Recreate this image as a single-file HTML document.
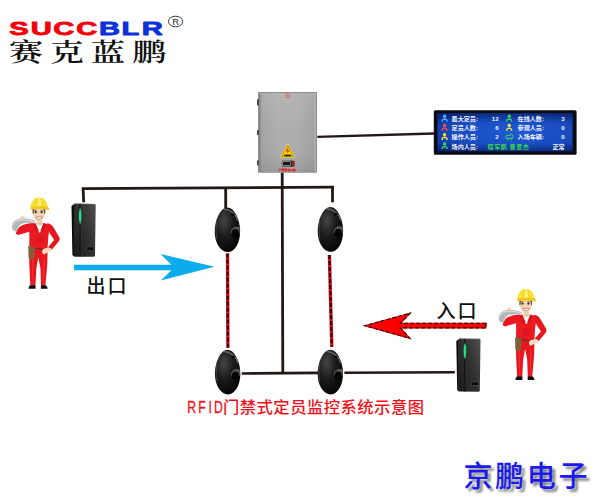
<!DOCTYPE html>
<html lang="zh-CN">
<head>
<meta charset="utf-8">
<title>RFID门禁式定员监控系统示意图</title>
<style>
html,body{margin:0;padding:0;background:#fff;}
body{width:600px;height:500px;overflow:hidden;position:relative;font-family:"Liberation Sans","Noto Sans CJK SC",sans-serif;}
svg{position:absolute;left:0;top:0;display:block;}
text{white-space:pre;}
</style>
</head>
<body>
<svg width="600" height="500" viewBox="0 0 600 500">
<defs>
  <radialGradient id="sgA" cx="0.36" cy="0.3" r="0.75"><stop offset="0" stop-color="#454545"/><stop offset="0.5" stop-color="#1a1a1a"/><stop offset="1" stop-color="#040404"/></radialGradient>
  <radialGradient id="sgB" cx="0.36" cy="0.3" r="0.75"><stop offset="0" stop-color="#454545"/><stop offset="0.5" stop-color="#1a1a1a"/><stop offset="1" stop-color="#040404"/></radialGradient>
  <radialGradient id="sgC" cx="0.36" cy="0.3" r="0.75"><stop offset="0" stop-color="#454545"/><stop offset="0.5" stop-color="#1a1a1a"/><stop offset="1" stop-color="#040404"/></radialGradient>
  <radialGradient id="sgD" cx="0.36" cy="0.3" r="0.75"><stop offset="0" stop-color="#454545"/><stop offset="0.5" stop-color="#1a1a1a"/><stop offset="1" stop-color="#040404"/></radialGradient>
  <linearGradient id="rg" x1="0" y1="0.8" x2="1" y2="0"><stop offset="0" stop-color="#1e1e1e"/><stop offset="0.55" stop-color="#343434"/><stop offset="1" stop-color="#505050"/></linearGradient>
  <linearGradient id="boxg" x1="0" y1="0" x2="1" y2="0"><stop offset="0" stop-color="#a2a2a2"/><stop offset="0.3" stop-color="#adadad"/><stop offset="0.7" stop-color="#acacac"/><stop offset="1" stop-color="#a0a0a0"/></linearGradient>
  <linearGradient id="boxv" x1="0" y1="0" x2="0" y2="1"><stop offset="0" stop-color="#ffffff" stop-opacity="0.10"/><stop offset="0.5" stop-color="#ffffff" stop-opacity="0"/><stop offset="1" stop-color="#000000" stop-opacity="0.10"/></linearGradient>
  <radialGradient id="ledg" cx="0.55" cy="0.5" r="0.75"><stop offset="0" stop-color="#1e5ad4"/><stop offset="0.6" stop-color="#184abc"/><stop offset="1" stop-color="#0e2e90"/></radialGradient>
  <linearGradient id="ledv" x1="0" y1="0" x2="0" y2="1"><stop offset="0" stop-color="#000a40" stop-opacity="0.45"/><stop offset="0.25" stop-color="#000a40" stop-opacity="0"/><stop offset="0.8" stop-color="#000a40" stop-opacity="0"/><stop offset="1" stop-color="#000a40" stop-opacity="0.4"/></linearGradient>
  <pattern id="beam" width="3.4" height="4" patternUnits="userSpaceOnUse"><rect width="3.4" height="4" fill="#e60012"/><path d="M-1,0.5 L4.4,2.5 L4.4,4 L-1,2 Z" fill="#1a1a1a"/></pattern>
  <filter id="sh" x="-10%" y="-10%" width="130%" height="140%"><feGaussianBlur stdDeviation="1.2"/></filter>
</defs>

<!-- logo -->
<g id="logo">
  <text transform="scale(1.6,1)" x="5.8 19.3 33.3 47.7 61.9 76.0 88.6" y="35.0" font-family="'Liberation Sans',sans-serif" font-weight="bold" font-size="18.2" stroke-width="0.8" stroke-linejoin="round"><tspan fill="#f4000a" stroke="#f4000a">SUCC</tspan><tspan fill="#0a32d8" stroke="#0a32d8">BLR</tspan></text>
  <text transform="translate(9,60.8) scale(1.36,1)" font-family="'Liberation Serif','Noto Serif CJK SC',serif" font-weight="600" font-size="25" letter-spacing="5.2" fill="#111">赛克蓝鹏</text>
  <ellipse cx="175.6" cy="21.5" rx="7.1" ry="5.3" fill="none" stroke="#222" stroke-width="0.9"/>
  <text x="172.3" y="24.9" font-family="'Liberation Sans',sans-serif" font-size="9.4" fill="#222">R</text>
</g>

<!-- wiring -->
<g id="wires" fill="none" stroke="#231815" stroke-width="2.8" stroke-linejoin="miter">
  <path d="M83.7,202.3 L83.1,188.6 L334,187.2"/>
  <path d="M225.7,187.6 L225.7,208.5"/>
  <path d="M332.5,186 L332.5,202.3"/>
  <path d="M282.2,172.5 L282.8,373.5"/>
  <path d="M241.8,373.5 L318.5,372.9" stroke-width="2.6"/>
  <path d="M344.4,372.8 L454.8,372.2" stroke-width="2.6"/>
  <path d="M317.3,136.9 L434,133.5" stroke-width="2.4"/>
</g>

<!-- control box -->
<g id="box">
  <rect x="258" y="92" width="59" height="80.8" rx="1" fill="#8c8c8c"/>
  <rect x="260" y="93" width="55.4" height="79" fill="url(#boxg)"/>
  <rect x="260" y="93" width="55.4" height="79" fill="url(#boxv)"/>
  <path d="M315.1,93.4 L315.1,172" stroke="#cfcfcf" stroke-width="0.7"/>
  <path d="M260.3,93.4 L260.3,172" stroke="#7e7e7e" stroke-width="0.7"/>
  <rect x="257" y="99.4" width="1.9" height="6" fill="#4a4642"/>
  <rect x="257" y="130" width="1.9" height="5" fill="#4a4642"/>
  <rect x="257" y="160.4" width="1.9" height="5" fill="#4a4642"/>
  <text transform="translate(285.4,98.3) scale(0.7,1)" font-family="'Liberation Sans',sans-serif" font-size="6.6" fill="#e04444">Ex</text>
  <path d="M287.7,145.2 L293.8,156.8 L281.4,156.8 Z" fill="#f6da0a" stroke="#e8e8e0" stroke-width="2.6" stroke-linejoin="round" opacity="0.7"/>
  <path d="M287.7,145.2 L293.8,156.8 L281.4,156.8 Z" fill="#f6da0a" stroke="#caa400" stroke-width="1.5" stroke-linejoin="round"/>
  <path d="M288.4,147 L286,151.6 L287.9,151.4 L286.6,154.6 L289.8,150.2 L287.9,150.4 Z" fill="#e0201c"/>
  <rect x="284.2" y="154.6" width="7" height="1.7" fill="#2a2200"/>
  <rect x="280.9" y="160.1" width="14.2" height="7" fill="#d8d8d8" opacity="0.7"/>
  <rect x="281.6" y="160.6" width="13" height="6" fill="#151515"/>
  <rect x="282.6" y="161.7" width="8" height="3.8" fill="none" stroke="#cfcfcf" stroke-width="0.6"/>
  <rect x="292.2" y="161" width="1.6" height="5.2" fill="#d9241c"/>
  <text x="278.9" y="171.3" font-family="'Liberation Sans','Noto Sans CJK SC',sans-serif" font-weight="bold" font-size="2.85" fill="#e0201c" stroke="#e0201c" stroke-width="0.15">严禁带电开盖</text>
</g>

<!-- LED display -->
<g id="led">
  <rect x="433.8" y="110.2" width="142.8" height="44.6" rx="1.6" fill="#0a0c14"/>
  <rect x="437.4" y="113.2" width="135.2" height="38" fill="url(#ledg)"/>
  <rect x="437.4" y="113.2" width="135.2" height="38" fill="url(#ledv)"/>
  <style>.lt{font-family:"Liberation Sans","Noto Sans CJK SC",sans-serif;font-weight:bold;font-size:6.1px;fill:#f4f6ff;}</style>
  <circle cx="444.6" cy="116.3" r="1.7" fill="#4fb4ff"/><path d="M441.40000000000003,121.5 C441.40000000000003,117.1 447.8,117.1 447.8,121.5 L446.1,121.5 L446.1,119.9 L443.1,119.9 L443.1,121.5 Z" fill="#4fb4ff"/>
  <text x="451.6" y="120.9" class="lt">最大定员:</text>
  <text x="498.6" y="120.9" class="lt" text-anchor="end">12</text>
  <circle cx="509.2" cy="116.3" r="1.7" fill="#38d35a"/><path d="M506.0,121.5 C506.0,117.1 512.4,117.1 512.4,121.5 L510.7,121.5 L510.7,119.9 L507.7,119.9 L507.7,121.5 Z" fill="#38d35a"/>
  <text x="517.6" y="120.9" class="lt">在线人数:</text>
  <text x="564.6" y="120.9" class="lt" text-anchor="end">3</text>
  <circle cx="444.6" cy="125.5" r="1.7" fill="#ff4a4a"/><path d="M441.40000000000003,130.7 C441.40000000000003,126.3 447.8,126.3 447.8,130.7 L446.1,130.7 L446.1,129.1 L443.1,129.1 L443.1,130.7 Z" fill="#ff4a4a"/>
  <text x="451.6" y="130.1" class="lt">定员人数:</text>
  <text x="498.6" y="130.1" class="lt" text-anchor="end">6</text>
  <circle cx="509.2" cy="125.5" r="1.7" fill="#f3e23a"/><path d="M506.0,130.7 C506.0,126.3 512.4,126.3 512.4,130.7 L510.7,130.7 L510.7,129.1 L507.7,129.1 L507.7,130.7 Z" fill="#f3e23a"/>
  <text x="517.6" y="130.1" class="lt">参观人员:</text>
  <text x="564.6" y="130.1" class="lt" text-anchor="end">0</text>
  <circle cx="444.6" cy="134.7" r="1.7" fill="#f3e23a"/><path d="M441.40000000000003,139.9 C441.40000000000003,135.5 447.8,135.5 447.8,139.9 L446.1,139.9 L446.1,138.3 L443.1,138.3 L443.1,139.9 Z" fill="#f3e23a"/>
  <text x="451.6" y="139.3" class="lt">操作人员:</text>
  <text x="498.6" y="139.3" class="lt" text-anchor="end">2</text>
  <path d="M506.0,138.3 L506.0,135.5 L510.0,135.5 L510.0,134.3 L512.0,134.3 L513.0,136.5 L513.0,138.3 Z" fill="none" stroke="#38d35a" stroke-width="0.9" stroke-linejoin="round"/><circle cx="507.79999999999995" cy="138.8" r="1" fill="#38d35a"/><circle cx="511.29999999999995" cy="138.8" r="1" fill="#38d35a"/>
  <text x="517.6" y="139.3" class="lt">入场车辆:</text>
  <text x="564.6" y="139.3" class="lt" text-anchor="end">0</text>
  <circle cx="444.6" cy="143.9" r="1.7" fill="#38d35a"/><path d="M441.40000000000003,149.1 C441.40000000000003,144.7 447.8,144.7 447.8,149.1 L446.1,149.1 L446.1,147.5 L443.1,147.5 L443.1,149.1 Z" fill="#38d35a"/>
  <text x="451.6" y="148.5" class="lt">场内人员:</text>
  <text x="487.6" y="148.5" class="lt" fill="#38d35a" style="fill:#38d35a" letter-spacing="0.5">程军鹏 曹景杰</text>
  <text x="564.6" y="148.5" class="lt" text-anchor="end">正常</text>
</g>

<!-- beams -->
<g fill="none">
  <path d="M227.5,253.6 L227.9,347.8" stroke="#f4101a" stroke-width="3.4"/>
  <path d="M227.5,253.6 L227.9,347.8" stroke="#1a0a0a" stroke-width="2.1" stroke-dasharray="4.2 1.8"/>
  <path d="M329.4,255 L331.8,346.8" stroke="#f4101a" stroke-width="3.4"/>
  <path d="M329.4,255 L331.8,346.8" stroke="#1a0a0a" stroke-width="2.1" stroke-dasharray="4.2 1.8"/>
</g>

<!-- sensors -->
<g transform="translate(227.4,229.8)">
  <path d="M0,-22.3 C7,-22.3 12.7,-10 12.7,2 C12.7,13 7.5,22.3 0.4,22.3 C-7,22.3 -12.7,13 -12.7,2 C-12.7,-10 -7,-22.3 0,-22.3 Z" fill="url(#sgA)"/>
  <path d="M-3,-20.6 C3,-20.4 8.6,-15.4 10.2,-9.6" stroke="#777" stroke-width="1.5" fill="none" opacity="0.75" stroke-linecap="round"/>
  <path d="M-10.6,-8 C-11.6,-3 -11.6,4 -10.6,9" stroke="#555" stroke-width="1.2" fill="none" opacity="0.6" stroke-linecap="round"/>
  <ellipse cx="5.6" cy="-15.2" rx="1.5" ry="1.2" fill="#000"/>
  <path d="M3.4,3.4 C3.4,-1.6 7.6,-4.4 12.2,-2.6 L12.4,4 Z" fill="#6a6a6a" opacity="0.8"/>
  <ellipse cx="7.9" cy="3.6" rx="3.6" ry="4.3" fill="#030303"/>
</g>
<g transform="translate(330.4,229.4)">
  <path d="M0,-22.3 C7,-22.3 12.7,-10 12.7,2 C12.7,13 7.5,22.3 0.4,22.3 C-7,22.3 -12.7,13 -12.7,2 C-12.7,-10 -7,-22.3 0,-22.3 Z" fill="url(#sgB)"/>
  <path d="M-3,-20.6 C3,-20.4 8.6,-15.4 10.2,-9.6" stroke="#777" stroke-width="1.5" fill="none" opacity="0.75" stroke-linecap="round"/>
  <path d="M-10.6,-8 C-11.6,-3 -11.6,4 -10.6,9" stroke="#555" stroke-width="1.2" fill="none" opacity="0.6" stroke-linecap="round"/>
  <ellipse cx="5.6" cy="-15.2" rx="1.5" ry="1.2" fill="#000"/>
  <path d="M3.4,3.4 C3.4,-1.6 7.6,-4.4 12.2,-2.6 L12.4,4 Z" fill="#6a6a6a" opacity="0.8"/>
  <ellipse cx="7.9" cy="3.6" rx="3.6" ry="4.3" fill="#030303"/>
</g>
<g transform="translate(227.6,372.1)">
  <path d="M0,-22.3 C7,-22.3 12.7,-10 12.7,2 C12.7,13 7.5,22.3 0.4,22.3 C-7,22.3 -12.7,13 -12.7,2 C-12.7,-10 -7,-22.3 0,-22.3 Z" fill="url(#sgC)"/>
  <path d="M-3,-20.6 C3,-20.4 8.6,-15.4 10.2,-9.6" stroke="#777" stroke-width="1.5" fill="none" opacity="0.75" stroke-linecap="round"/>
  <path d="M-10.6,-8 C-11.6,-3 -11.6,4 -10.6,9" stroke="#555" stroke-width="1.2" fill="none" opacity="0.6" stroke-linecap="round"/>
  <ellipse cx="5.6" cy="-15.2" rx="1.5" ry="1.2" fill="#000"/>
  <path d="M3.4,3.4 C3.4,-1.6 7.6,-4.4 12.2,-2.6 L12.4,4 Z" fill="#6a6a6a" opacity="0.8"/>
  <ellipse cx="7.9" cy="3.6" rx="3.6" ry="4.3" fill="#030303"/>
</g>
<g transform="translate(330.3,372.1)">
  <path d="M0,-22.3 C7,-22.3 12.7,-10 12.7,2 C12.7,13 7.5,22.3 0.4,22.3 C-7,22.3 -12.7,13 -12.7,2 C-12.7,-10 -7,-22.3 0,-22.3 Z" fill="url(#sgD)"/>
  <path d="M-3,-20.6 C3,-20.4 8.6,-15.4 10.2,-9.6" stroke="#777" stroke-width="1.5" fill="none" opacity="0.75" stroke-linecap="round"/>
  <path d="M-10.6,-8 C-11.6,-3 -11.6,4 -10.6,9" stroke="#555" stroke-width="1.2" fill="none" opacity="0.6" stroke-linecap="round"/>
  <ellipse cx="5.6" cy="-15.2" rx="1.5" ry="1.2" fill="#000"/>
  <path d="M3.4,3.4 C3.4,-1.6 7.6,-4.4 12.2,-2.6 L12.4,4 Z" fill="#6a6a6a" opacity="0.8"/>
  <ellipse cx="7.9" cy="3.6" rx="3.6" ry="4.3" fill="#030303"/>
</g>

<!-- readers -->
<g transform="translate(71.5,203.6)">
  <path d="M0,2.4 L2.6,0.5 L2.6,53 L0.9,51.4 Z" fill="#0b0b0b"/>
  <path d="M2.4,1.1 C2.4,0.4 3,0 3.6,0 L23,0.3 C23.8,0.3 24.2,0.9 24.2,1.5 L23.5,52 C23.5,52.8 22.9,53.2 22.2,53.2 L3.2,53.1 C2.6,53.1 2.2,52.6 2.2,52 Z" fill="url(#rg)"/>
  <path d="M3.4,0.6 L23.4,0.9" stroke="#6a6a6a" stroke-width="0.6" opacity="0.7"/>
  <path d="M8.5,0.5 L8.7,53" stroke="#0e0e0e" stroke-width="1.1"/>
  <path d="M9.6,0.6 L9.8,53" stroke="#555" stroke-width="0.5" opacity="0.5"/>
  <path d="M8.6,4.4 C10.4,8 10.4,16.6 8.6,20.8 C6.9,16.6 6.9,8 8.6,4.4 Z" fill="#1fe084"/>
  <rect x="15.2" y="43.4" width="7" height="3.6" rx="0.6" fill="#0a0a0a" stroke="#5a5a5a" stroke-width="0.5"/>
</g>
<g transform="translate(456.3,338.5)">
  <path d="M0,2.4 L2.6,0.5 L2.6,53 L0.9,51.4 Z" fill="#0b0b0b"/>
  <path d="M2.4,1.1 C2.4,0.4 3,0 3.6,0 L23,0.3 C23.8,0.3 24.2,0.9 24.2,1.5 L23.5,52 C23.5,52.8 22.9,53.2 22.2,53.2 L3.2,53.1 C2.6,53.1 2.2,52.6 2.2,52 Z" fill="url(#rg)"/>
  <path d="M3.4,0.6 L23.4,0.9" stroke="#6a6a6a" stroke-width="0.6" opacity="0.7"/>
  <path d="M8.5,0.5 L8.7,53" stroke="#0e0e0e" stroke-width="1.1"/>
  <path d="M9.6,0.6 L9.8,53" stroke="#555" stroke-width="0.5" opacity="0.5"/>
  <path d="M8.6,4.4 C10.4,8 10.4,16.6 8.6,20.8 C6.9,16.6 6.9,8 8.6,4.4 Z" fill="#1fe084"/>
  <rect x="15.2" y="43.4" width="7" height="3.6" rx="0.6" fill="#0a0a0a" stroke="#5a5a5a" stroke-width="0.5"/>
</g>

<!-- workers -->
<g transform="translate(0,0)">
  <!-- legs -->
  <path d="M29.2,249 L47.6,249 L47.3,264 L45.4,285.6 L41,285.6 L40.4,268 L38.3,257.6 L36.4,268 L35.4,285.6 L30.3,285.6 L29.3,264 Z" fill="#e9161f"/>
  <path d="M32.3,258 L33.4,258 L33,284 L32.4,284 Z M43.6,258 L44.8,258 L43.6,284 L43,284 Z" fill="#ff4a4a" opacity="0.55"/>
  <!-- shoes -->
  <path d="M30,285.2 L35.5,285.2 L35.6,288.7 L28.6,288.7 C28.6,287 29.2,286 30,285.2 Z" fill="#101010"/>
  <path d="M40.9,285.2 L45.8,285.2 C46.8,286 47.6,287.2 47.6,288.7 L40.9,288.7 Z" fill="#101010"/>
  <!-- raised arm -->
  <path d="M33.5,223 C28,223.2 23.5,224.4 20.4,226.2 C18.4,227.6 16.8,230.6 15.8,233 C16.2,234.6 18,235.2 19.8,234.6 L30,231.6 Z" fill="#e9161f"/>
  <!-- cable over shoulder -->
  <path d="M12,226.4 C12,221.4 17,218.6 22,218.3 C27,218.2 31,219.4 34.8,220.8 L34.5,223 C30,222.7 24,222.6 20.6,224.2 C18.2,225.6 17.6,229 16.6,231.4 C14,231.8 12,230 12,226.4 Z" fill="#b4b7ba"/>
  <path d="M13.4,225 C14.4,221.6 18,220 22,219.8 C26,219.8 30,220.6 33.8,221.4" stroke="#dfe1e3" stroke-width="1" fill="none"/>
  <!-- hand on cable -->
  <ellipse cx="22.4" cy="217.7" rx="1.9" ry="1.6" fill="#f3cfae"/>
  <!-- torso -->
  <path d="M29,226 C31,223.6 35,223 39.4,223 C44,223 47.6,223.4 50,226 L48.4,236 L47.4,250 L29.2,250 L29.4,236 Z" fill="#eb1a22"/>
  <!-- right arm on hip -->
  <path d="M47,223.3 C51.6,223.8 53.6,227 55.6,231 L59.4,237.4 C60,239 59.6,240.4 58.6,241.6 L51.6,250 L48,247.2 L54.2,240 L49.6,233 Z" fill="#e9161f"/>
  <path d="M42.2,250.4 C43,248.8 46,248 48.6,247.6 L51.6,248.6 C51.8,250.4 50,251.6 47.6,252.6 L43.6,254.4 C42.4,253.6 42,252 42.2,250.4 Z" fill="#f6dcc2"/>
  <!-- white shirt / neck -->
  <path d="M35.6,223.2 L43.4,223.2 L40.2,232.4 L39,232.4 Z" fill="#eef3f4"/>
  <path d="M37,220.6 L42,220.6 L41.8,224.6 L39.5,225.6 L37.2,224.6 Z" fill="#eec39e"/>
  <!-- collar -->
  <path d="M35.2,223 L38.6,230.6 L36.4,232.4 L33,225 Z" fill="#d3141c"/>
  <path d="M43.8,223 L40.6,230.6 L42.6,232.4 L46,225 Z" fill="#d3141c"/>
  <!-- chest pocket -->
  <rect x="36.4" y="236" width="7.4" height="7.4" fill="#c8121a" opacity="0.4"/>
  <!-- belt -->
  <path d="M34.6,247.7 L42.8,248.8 L42.6,249.8 L34.6,248.8 Z" fill="#4a3524"/>
  <path d="M28.2,246 L34.9,247 L34.6,258 C33,260.4 29.8,260.2 28.6,258 Z" fill="#8a5b3a"/>
  <path d="M29.4,246.2 L31,246.4 L30.8,250.6 L29.4,250.4 Z" fill="#3f8a4a"/>
  <!-- head -->
  <path d="M32.5,208.6 L45.3,208.6 C45.6,214 44.4,220.2 39,223.2 C33.8,220.4 32.2,214 32.5,208.6 Z" fill="#f5d3b3"/>
  <path d="M32.5,209 L34.3,209 L33.7,213.4 L32.7,214 Z" fill="#7a4b2a"/>
  <path d="M45.3,209 L43.6,209 L44.2,213.4 L45.2,214 Z" fill="#7a4b2a"/>
  <ellipse cx="35.7" cy="212.2" rx="1.1" ry="1.1" fill="#26263c"/>
  <ellipse cx="41.6" cy="212.2" rx="1.1" ry="1.1" fill="#26263c"/>
  <path d="M34.2,210.4 L37,210.2 M40.4,210.2 L43.2,210.4" stroke="#5a3a20" stroke-width="0.6" fill="none"/>
  <path d="M36.2,217 C37.4,220 41,220 42.2,217 Z" fill="#ffffff" stroke="#8c5a5a" stroke-width="0.6"/>
  <!-- helmet -->
  <path d="M30.6,209.5 C30.2,202 33.8,197.6 39.2,197.6 C44.6,197.6 47.4,202 47.5,206.6 L49.2,208.8 C49.5,209.8 48.8,210.2 48,209.9 C43,208.5 36,208.5 30.6,209.5 Z" fill="#fbe232"/>
  <path d="M38,198 C37.4,200.6 37.2,203.4 37.2,206.2 L41.4,206.2 C41.4,203.4 41.2,200.6 40.4,198 Z" fill="#fff27e" opacity="0.8"/>
  <path d="M30.6,209.5 C30.5,208.6 30.5,207.8 30.6,207 C36,206 43,206.2 47.5,206.6 L49.2,208.8 C49.5,209.8 48.8,210.2 48,209.9 C43,208.5 36,208.5 30.6,209.5 Z" fill="#ecc81a"/>
  <path d="M37.4,198 C36.6,200.4 36.2,203.4 36.2,206.2 M41.2,198 C42,200.4 42.4,203.4 42.4,206.2" stroke="#e2c320" stroke-width="0.6" fill="none"/>
</g>
<g transform="translate(486.8,91.4)">
  <!-- legs -->
  <path d="M29.2,249 L47.6,249 L47.3,264 L45.4,285.6 L41,285.6 L40.4,268 L38.3,257.6 L36.4,268 L35.4,285.6 L30.3,285.6 L29.3,264 Z" fill="#e9161f"/>
  <path d="M32.3,258 L33.4,258 L33,284 L32.4,284 Z M43.6,258 L44.8,258 L43.6,284 L43,284 Z" fill="#ff4a4a" opacity="0.55"/>
  <!-- shoes -->
  <path d="M30,285.2 L35.5,285.2 L35.6,288.7 L28.6,288.7 C28.6,287 29.2,286 30,285.2 Z" fill="#101010"/>
  <path d="M40.9,285.2 L45.8,285.2 C46.8,286 47.6,287.2 47.6,288.7 L40.9,288.7 Z" fill="#101010"/>
  <!-- raised arm -->
  <path d="M33.5,223 C28,223.2 23.5,224.4 20.4,226.2 C18.4,227.6 16.8,230.6 15.8,233 C16.2,234.6 18,235.2 19.8,234.6 L30,231.6 Z" fill="#e9161f"/>
  <!-- cable over shoulder -->
  <path d="M12,226.4 C12,221.4 17,218.6 22,218.3 C27,218.2 31,219.4 34.8,220.8 L34.5,223 C30,222.7 24,222.6 20.6,224.2 C18.2,225.6 17.6,229 16.6,231.4 C14,231.8 12,230 12,226.4 Z" fill="#b4b7ba"/>
  <path d="M13.4,225 C14.4,221.6 18,220 22,219.8 C26,219.8 30,220.6 33.8,221.4" stroke="#dfe1e3" stroke-width="1" fill="none"/>
  <!-- hand on cable -->
  <ellipse cx="22.4" cy="217.7" rx="1.9" ry="1.6" fill="#f3cfae"/>
  <!-- torso -->
  <path d="M29,226 C31,223.6 35,223 39.4,223 C44,223 47.6,223.4 50,226 L48.4,236 L47.4,250 L29.2,250 L29.4,236 Z" fill="#eb1a22"/>
  <!-- right arm on hip -->
  <path d="M47,223.3 C51.6,223.8 53.6,227 55.6,231 L59.4,237.4 C60,239 59.6,240.4 58.6,241.6 L51.6,250 L48,247.2 L54.2,240 L49.6,233 Z" fill="#e9161f"/>
  <path d="M42.2,250.4 C43,248.8 46,248 48.6,247.6 L51.6,248.6 C51.8,250.4 50,251.6 47.6,252.6 L43.6,254.4 C42.4,253.6 42,252 42.2,250.4 Z" fill="#f6dcc2"/>
  <!-- white shirt / neck -->
  <path d="M35.6,223.2 L43.4,223.2 L40.2,232.4 L39,232.4 Z" fill="#eef3f4"/>
  <path d="M37,220.6 L42,220.6 L41.8,224.6 L39.5,225.6 L37.2,224.6 Z" fill="#eec39e"/>
  <!-- collar -->
  <path d="M35.2,223 L38.6,230.6 L36.4,232.4 L33,225 Z" fill="#d3141c"/>
  <path d="M43.8,223 L40.6,230.6 L42.6,232.4 L46,225 Z" fill="#d3141c"/>
  <!-- chest pocket -->
  <rect x="36.4" y="236" width="7.4" height="7.4" fill="#c8121a" opacity="0.4"/>
  <!-- belt -->
  <path d="M34.6,247.7 L42.8,248.8 L42.6,249.8 L34.6,248.8 Z" fill="#4a3524"/>
  <path d="M28.2,246 L34.9,247 L34.6,258 C33,260.4 29.8,260.2 28.6,258 Z" fill="#8a5b3a"/>
  <path d="M29.4,246.2 L31,246.4 L30.8,250.6 L29.4,250.4 Z" fill="#3f8a4a"/>
  <!-- head -->
  <path d="M32.5,208.6 L45.3,208.6 C45.6,214 44.4,220.2 39,223.2 C33.8,220.4 32.2,214 32.5,208.6 Z" fill="#f5d3b3"/>
  <path d="M32.5,209 L34.3,209 L33.7,213.4 L32.7,214 Z" fill="#7a4b2a"/>
  <path d="M45.3,209 L43.6,209 L44.2,213.4 L45.2,214 Z" fill="#7a4b2a"/>
  <ellipse cx="35.7" cy="212.2" rx="1.1" ry="1.1" fill="#26263c"/>
  <ellipse cx="41.6" cy="212.2" rx="1.1" ry="1.1" fill="#26263c"/>
  <path d="M34.2,210.4 L37,210.2 M40.4,210.2 L43.2,210.4" stroke="#5a3a20" stroke-width="0.6" fill="none"/>
  <path d="M36.2,217 C37.4,220 41,220 42.2,217 Z" fill="#ffffff" stroke="#8c5a5a" stroke-width="0.6"/>
  <!-- helmet -->
  <path d="M30.6,209.5 C30.2,202 33.8,197.6 39.2,197.6 C44.6,197.6 47.4,202 47.5,206.6 L49.2,208.8 C49.5,209.8 48.8,210.2 48,209.9 C43,208.5 36,208.5 30.6,209.5 Z" fill="#fbe232"/>
  <path d="M38,198 C37.4,200.6 37.2,203.4 37.2,206.2 L41.4,206.2 C41.4,203.4 41.2,200.6 40.4,198 Z" fill="#fff27e" opacity="0.8"/>
  <path d="M30.6,209.5 C30.5,208.6 30.5,207.8 30.6,207 C36,206 43,206.2 47.5,206.6 L49.2,208.8 C49.5,209.8 48.8,210.2 48,209.9 C43,208.5 36,208.5 30.6,209.5 Z" fill="#ecc81a"/>
  <path d="M37.4,198 C36.6,200.4 36.2,203.4 36.2,206.2 M41.2,198 C42,200.4 42.4,203.4 42.4,206.2" stroke="#e2c320" stroke-width="0.6" fill="none"/>
</g>

<!-- exit arrow -->
<path d="M74,264.8 L171.4,264.8 L160.6,254 L214.4,266.8 L160.8,280.5 L171.4,270.3 L74,270.3 Z" fill="#0aaceb"/>
<text x="86.6" y="293" font-family="'Liberation Sans','Noto Sans CJK SC',sans-serif" font-weight="500" font-size="19" letter-spacing="1.8" fill="#111">出口</text>

<!-- entrance arrow -->
<path d="M486,323.3 L400.5,323.3 L410,313.2 L364.8,325.7 L410,338.4 L400.5,327.9 L486,327.9 Z" fill="#fe0000" stroke="#fe0000" stroke-width="1.1" stroke-linejoin="miter"/>
<path d="M486,323.3 L400.5,323.3 L410,313.2 L364.8,325.7 L410,338.4 L400.5,327.9 L486,327.9 Z" fill="none" stroke="#1a1010" stroke-width="1.1" stroke-dasharray="4 2" stroke-linejoin="miter"/>
<text x="436.4" y="318.4" font-family="'Liberation Sans','Noto Sans CJK SC',sans-serif" font-weight="500" font-size="19" letter-spacing="2" fill="#111">入口</text>

<!-- caption -->
<text transform="scale(0.76,1)" x="246.3 260.7 274.2 281.6" y="413" font-family="'Liberation Sans',sans-serif" font-size="16" fill="#f0101a" stroke="#f0101a" stroke-width="0.3">RFID</text>
<text transform="translate(223,413.1) scale(1.06,1)" font-family="'Liberation Sans','Noto Sans CJK SC',sans-serif" font-weight="500" font-size="15.4" letter-spacing="0.45" fill="#f0101a">门禁式定员监控系统示意图</text>

<!-- brand -->
<text x="466.6" y="490.4" font-family="'Liberation Sans','Noto Sans CJK SC',sans-serif" font-weight="500" font-size="29" letter-spacing="2.7" fill="#808080" filter="url(#sh)" opacity="0.95">京鹏电子</text>
<text x="463.4" y="487.2" font-family="'Liberation Sans','Noto Sans CJK SC',sans-serif" font-weight="500" font-size="29" letter-spacing="2.7" fill="#1a1af0">京鹏电子</text>
</svg>
</body>
</html>
